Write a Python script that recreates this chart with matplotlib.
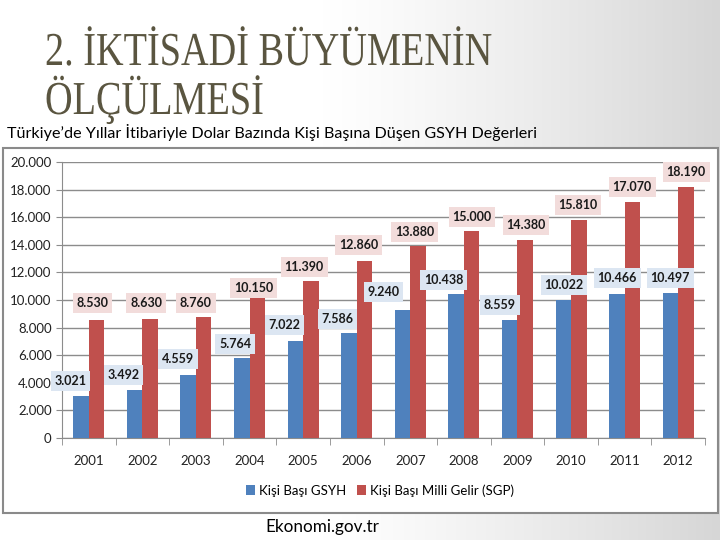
import numpy as np
import matplotlib
matplotlib.use('Agg')
import matplotlib.pyplot as plt
from matplotlib.patches import Rectangle, PathPatch
from matplotlib.textpath import TextPath
from matplotlib.font_manager import FontProperties
from matplotlib.transforms import Affine2D
from matplotlib.ticker import FuncFormatter, MultipleLocator

years = ["2001", "2002", "2003", "2004", "2005", "2006", "2007", "2008", "2009", "2010", "2011", "2012"]
gsyh = [3021, 3492, 4559, 5764, 7022, 7586, 9240, 10438, 8559, 10022, 10466, 10497]
milli_gelir = [8530, 8630, 8760, 10150, 11390, 12860, 13880, 15000, 14380, 15810, 17070, 18190]
series_names = ["Kişi Başı GSYH", "Kişi Başı Milli Gelir (SGP)"]
title_lines = ["2. İKTİSADİ BÜYÜMENİN", "ÖLÇÜLMESİ"]

# label placement (category offset, label centre value), hand-placed like the slide
blue_dx = [-0.34, -0.35, -0.34, -0.27, -0.35, -0.36, -0.50, -0.38, -0.33, -0.13, -0.14, -0.15]
blue_y = [4130, 4565, 5724, 6811, 8188, 8623, 10579, 11449, 9637, 11086, 11594, 11594]
red_dx = [0.07, 0.07, 0.0, 0.07, 0.02, 0.03, 0.08, 0.15, 0.16, 0.13, 0.14, 0.15]
red_y = [9782, 9782, 9782, 10869, 12391, 13985, 14927, 16014, 15434, 16883, 18188, 19275]

BLUE = "#4f81bd"
RED = "#c0504d"
BLUE_BOX = "#dce6f2"
RED_BOX = "#f2dcdb"
GRID = "#8c8c8c"
DPI = 100

fig = plt.figure(figsize=(7.2, 5.4), dpi=DPI)

# slide background: white fading to light grey on the right
bg = fig.add_axes([0, 0, 1, 1], zorder=-10)
grad = np.linspace(0, 1, 300)
grad = np.clip((grad - 0.45) / 0.55, 0, 1) ** 1.2
img = np.ones((10, 300, 3)) * (1 - 0.16 * grad)[None, :, None]
bg.imshow(img, aspect="auto", extent=[0, 1, 0, 1])
bg.axis("off")

# title in a condensed serif look: squeeze Liberation Serif glyphs horizontally
title_font = FontProperties(family="Liberation Serif")
for line, base in zip(title_lines, [65, 114]):
    tp = TextPath((0, 0), line, size=34, prop=title_font)
    tr = Affine2D().scale(0.81 * DPI / 72, DPI / 72).translate(45, 540 - base)
    fig.patches.append(PathPatch(tr.transform_path(tp), facecolor="#5a5540", edgecolor="none",
                                 transform=None, figure=fig))

fig.text(7 / 720, 1 - 133 / 540, "Türkiye’de Yıllar İtibariyle Dolar Bazında Kişi Başına Düşen GSYH Değerleri",
         fontsize=11.6, family="Lato", color="black", va="center", ha="left")

# chart frame
fig.patches.append(Rectangle((3 / 720, 1 - 513 / 540), 715 / 720, 365 / 540, transform=fig.transFigure,
                             facecolor="white", edgecolor="#8a8a8a", linewidth=1.5, zorder=-5))

ax = fig.add_axes([62 / 720, 1 - 438 / 540, (705 - 62) / 720, (438 - 162) / 540])
ax.set_facecolor("none")
x = np.arange(len(years))
w = 0.29
ax.bar(x - w / 2, gsyh, w, color=BLUE, label=series_names[0], zorder=3)
ax.bar(x + w / 2, milli_gelir, w, color=RED, label=series_names[1], zorder=3)

fmt = lambda v: f"{v:,.0f}".replace(",", ".")
for i in range(len(years)):
    ax.text(x[i] + blue_dx[i], blue_y[i], fmt(gsyh[i]), ha="center", va="center", fontsize=9,
            fontweight="bold", family="Lato", color="#1a1a1a", zorder=5,
            bbox=dict(boxstyle="square,pad=0.3", facecolor=BLUE_BOX, edgecolor="none"))
    ax.text(x[i] + red_dx[i], red_y[i], fmt(milli_gelir[i]), ha="center", va="center", fontsize=9,
            fontweight="bold", family="Lato", color="#1a1a1a", zorder=5,
            bbox=dict(boxstyle="square,pad=0.3", facecolor=RED_BOX, edgecolor="none"))

ax.set_xlim(-0.5, len(years) - 0.5)
ax.set_ylim(0, 20000)
ax.yaxis.set_major_locator(MultipleLocator(2000))
ax.yaxis.set_major_formatter(FuncFormatter(lambda v, p: fmt(v)))
ax.yaxis.grid(True, color=GRID, linewidth=1, zorder=0)
ax.set_axisbelow(True)
for s in ["top", "right"]:
    ax.spines[s].set_visible(False)
ax.spines["left"].set_color(GRID)
ax.spines["bottom"].set_color(GRID)
ax.set_xticks(x)
ax.set_xticklabels(years)
ax.set_xticks(np.arange(-0.5, len(years), 1), minor=True)
ax.tick_params(axis="x", which="major", length=0, pad=12, labelsize=9.5, labelcolor="#222222")
ax.tick_params(axis="x", which="minor", length=5, color=GRID, direction="out")
ax.tick_params(axis="y", length=4, color=GRID, labelsize=9.5, labelcolor="#222222")
for lab in ax.get_xticklabels() + ax.get_yticklabels():
    lab.set_family("Lato")

ax.legend(loc="center", bbox_to_anchor=(0.495, -0.19), ncol=2, frameon=False,
          handlelength=0.7, handleheight=0.7, handletextpad=0.3, columnspacing=0.8,
          prop={"family": "Lato", "size": 9.5})

fig.text(322 / 720, 1 - 527 / 540, "Ekonomi.gov.tr", fontsize=12.3, family="Lato", ha="center", va="center")

fig.savefig("out.png", dpi=DPI)
